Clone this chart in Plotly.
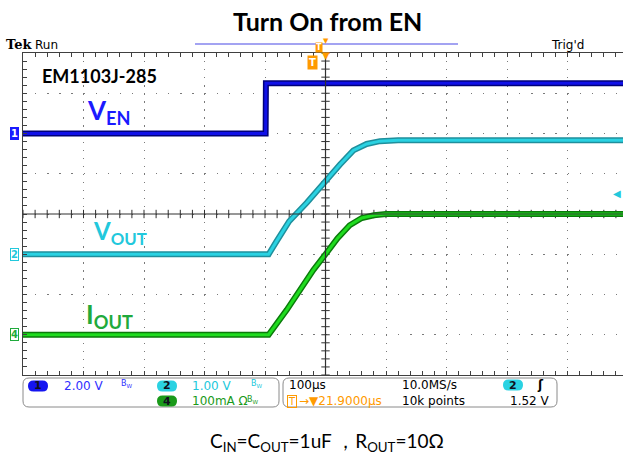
import plotly.graph_objects as go

# time axis in microseconds from the left edge of the screen (100 us/div)
ven_t = [0, 401, 401.5, 1000]
ven_v = [0.0, 0.0, 2.5, 2.5]  # CH1, 2 V/div

vout_t = [0, 406, 419, 440, 469, 500, 524, 546, 568, 590, 620, 1000]
vout_v = [0.0, 0.0, 0.32, 0.82, 1.28, 1.83, 2.23, 2.58, 2.74, 2.81, 2.83, 2.83]  # CH2, 1 V/div

iout_t = [0, 406, 436, 458, 480, 500, 520, 540, 560, 580, 600, 1000]
iout_ma = [0, 0, 62, 112, 161, 200, 240, 272, 290, 297, 300, 300]  # CH4, 100 mA/div

trig_level = 1.52

W, H = 623, 458
L, R, T, B = 23, 0, 53, 83
X_END = 991.7  # visible part of the 10 divisions (screen cropped on the right)


def px(x):
    return (x - L) / (W - L - R)


def py(y):
    return (H - B - y) / (H - T - B)


def rrect(x0, y0, x1, y1, r):
    return (f"M {px(x0 + r)},{py(y0)} L {px(x1 - r)},{py(y0)} Q {px(x1)},{py(y0)} {px(x1)},{py(y0 + r)} "
            f"L {px(x1)},{py(y1 - r)} Q {px(x1)},{py(y1)} {px(x1 - r)},{py(y1)} "
            f"L {px(x0 + r)},{py(y1)} Q {px(x0)},{py(y1)} {px(x0)},{py(y1 - r)} "
            f"L {px(x0)},{py(y0 + r)} Q {px(x0)},{py(y0)} {px(x0 + r)},{py(y0)} Z")


fig = go.Figure()

# centre crosshair tick marks (every 1/5 division)
hx = [i * 20 for i in range(50) if i * 20 <= X_END]
vy = [i * 0.2 - 4 for i in range(41)]
fig.add_trace(go.Scatter(x=hx, y=[0] * len(hx), mode="markers", hoverinfo="skip",
                         marker=dict(symbol="line-ns", size=6, line=dict(color="#303030", width=1))))
fig.add_trace(go.Scatter(x=[500] * len(vy), y=vy, mode="markers", hoverinfo="skip",
                         marker=dict(symbol="line-ew", size=6, line=dict(color="#303030", width=1))))


def add_channel(t, v, yaxis, edge, core):
    fig.add_trace(go.Scatter(x=t, y=v, yaxis=yaxis, mode="lines",
                             line=dict(color=edge, width=6), hoverinfo="skip"))
    fig.add_trace(go.Scatter(x=t, y=v, yaxis=yaxis, mode="lines",
                             line=dict(color=core, width=3), hoverinfo="skip"))


add_channel(ven_t, ven_v, "y2", "#00007a", "#1010e8")
add_channel(vout_t, vout_v, "y3", "#1f8f9c", "#2ad2e2")
add_channel(iout_t, iout_ma, "y4", "#0b7a0b", "#1fdc1f")

AX = "#404040"
GRID = "#7a7a7a"

annotations = []


def txt(x, y, s, size=12, color="black", family="DejaVu Sans", anchor="left", **kw):
    annotations.append(dict(x=px(x), y=py(y), xref="paper", yref="paper", text=s, showarrow=False,
                            xanchor=anchor, yanchor="middle",
                            font=dict(size=size, color=color, family=family), **kw))


# headings
txt(327, 21, "<b>Turn On from EN</b>", 25, family="Lato", anchor="center")
txt(4, 45, "<b>Tek</b>", 13, family="DejaVu Serif")
txt(33, 45, "Run", 12)
txt(549, 45, "Trig'd", 12)
txt(40, 76, "<b>EM1103J-285</b>", 18, family="Lato")
txt(85, 111, "<b>V<sub>EN</sub></b>", 26, "#1a1aff", "Lato")
txt(91, 233, "<b>V<sub>OUT</sub></b>", 24, "#22c8dc", "Lato")
txt(84, 315, "<b>I<sub>OUT</sub></b>", 26, "#1faa3c", "Lato")
txt(327, 442, "C<sub>IN</sub>=C<sub>OUT</sub>=1uF ，R<sub>OUT</sub>=10Ω", 19, family="Lato", anchor="center")

# trigger markers
txt(319, 47, "<b>T</b>", 8, "white", anchor="center", bgcolor="#ff9a00", borderpad=0)
txt(326, 41, "▼", 7, "#ff9a00", anchor="center")
txt(326, 56, "▼", 10, "#ff9a00", anchor="center")
txt(312, 63, "<b>T</b>", 10, "white", anchor="center", bgcolor="#ff9a00", borderpad=1)

# channel ground markers
for ch, yref, col, fill in [("1", "y2", "#1a1aff", True), ("2", "y3", "#22c8dc", False), ("4", "y4", "#1faa3c", False)]:
    annotations.append(dict(x=px(14), y=0, xref="paper", yref=yref, text=f"<b>{ch}</b>", showarrow=False,
                            xanchor="center", yanchor="middle",
                            font=dict(size=10, color="white" if fill else col, family="DejaVu Sans"),
                            bgcolor=col if fill else "white", bordercolor=col, borderwidth=1, borderpad=0))
annotations.append(dict(x=1, y=trig_level, xref="paper", yref="y3", text="◀", showarrow=False,
                        xanchor="right", yanchor="middle", font=dict(size=10, color="#22c8dc")))

shapes = [
    dict(type="line", xref="x", yref="paper", x0=500, x1=500, y0=0, y1=1, line=dict(color="#303030", width=1.2)),
    dict(type="line", xref="paper", yref="y", x0=0, x1=1, y0=0, y1=0, line=dict(color="#303030", width=1.2)),
    dict(type="line", xref="paper", yref="paper", x0=px(195), x1=px(458), y0=py(44), y1=py(44),
         line=dict(color="#a3a3f2", width=2)),
    dict(type="path", xref="paper", yref="paper", path=rrect(23, 378, 279, 407, 6),
         line=dict(color="#8a8a8a", width=1)),
    dict(type="path", xref="paper", yref="paper", path=rrect(283, 378, 557, 407, 6),
         line=dict(color="#8a8a8a", width=1)),
]

# readout pills
for x0, y0, col, ch in [(28, 386, "#1414f0", "1"), (157, 386, "#2ad2e2", "2"), (157, 401, "#1a9a1a", "4"),
                        (503, 385, "#2ad2e2", "2")]:
    shapes.append(dict(type="path", xref="paper", yref="paper", path=rrect(x0, y0 - 5.5, x0 + 20, y0 + 5.5, 5.5),
                       fillcolor=col, line=dict(width=0)))
    txt(x0 + 10, y0, f"<b>{ch}</b>", 11, "#101020", anchor="center")

txt(62, 386, "2.00 V", 12, "#3030ff")
txt(119, 384, "B<sub>W</sub>", 8, "#3030ff")
txt(190, 386, "1.00 V", 12, "#22c8dc")
txt(249, 384, "B<sub>W</sub>", 8, "#22c8dc")
txt(190, 401, "100mA Ω", 12, "#1a9a1a")
txt(245, 400, "B<sub>W</sub>", 8, "#1a9a1a")

txt(287, 385, "100µs", 12)
txt(400, 385, "10.0MS/s", 12)
txt(535, 385, "<b>ʃ</b>", 12)
txt(287, 401, "T", 10, "#ff9a00", bordercolor="#ff9a00", borderwidth=1, borderpad=0)
txt(297, 401, "→▼21.9000µs", 12, "#ff9a00")
txt(400, 401, "10k points", 12)
txt(508, 401, "1.52 V", 12)

fig.update_layout(
    width=W, height=H,
    margin=dict(l=L, r=R, t=T, b=B, pad=0),
    paper_bgcolor="white", plot_bgcolor="white",
    showlegend=False, hovermode=False,
    xaxis=dict(range=[0, X_END], showticklabels=False, zeroline=False, tick0=0, dtick=100,
               showgrid=True, gridcolor=GRID, gridwidth=1.3, griddash="1.3px,6.75px",
               showline=True, linecolor=AX, linewidth=1, mirror="allticks",
               ticks="inside", ticklen=4, tickcolor=AX,
               minor=dict(dtick=20, ticks="inside", ticklen=4, tickcolor=AX)),
    yaxis=dict(range=[-4, 4], showticklabels=False, zeroline=False, tick0=0, dtick=1,
               showgrid=True, gridcolor=GRID, gridwidth=1.3, griddash="1.3px,10.8px",
               showline=True, linecolor=AX, linewidth=1,
               ticks="inside", ticklen=4, tickcolor=AX,
               minor=dict(dtick=0.2, ticks="inside", ticklen=4, tickcolor=AX)),
    yaxis2=dict(range=[-12, 4], overlaying="y", visible=False),
    yaxis3=dict(range=[-3, 5], overlaying="y", visible=False),
    yaxis4=dict(range=[-100, 700], overlaying="y", visible=False),
    annotations=annotations,
    shapes=shapes,
)

# the page's default body margin would shift the figure by 8 px
fig.write_html("out.html", config={"displayModeBar": False},
               post_script="document.body.style.margin='0px';")
